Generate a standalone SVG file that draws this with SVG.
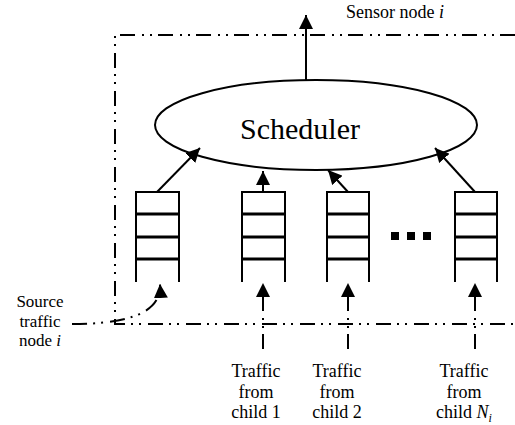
<svg xmlns="http://www.w3.org/2000/svg" width="515" height="425" viewBox="0 0 515 425">
<defs>
<marker id="ah" viewBox="0 0 14 14" refX="14" refY="7" markerWidth="14" markerHeight="14" markerUnits="userSpaceOnUse" orient="auto">
<path d="M0,0 L14,7 L0,14 z" fill="#000"/>
</marker>
</defs>
<style>
.t{font-family:"Liberation Serif","Times New Roman",serif;fill:#000;font-size:18px}
.s{font-size:17px}
.dd{fill:none;stroke:#000;stroke-width:2;stroke-dasharray:15 6 2 6 2 7}
.ln{fill:none;stroke:#000;stroke-width:2}
.q{fill:none;stroke:#000;stroke-width:2}
.qd{stroke:#000;stroke-width:3.2}
</style>
<rect width="515" height="425" fill="#fff"/>
<g id="frame">
<path class="dd" d="M515,35 L115,35 L115,324 L515,324"/>
<text class="t" x="346" y="18">Sensor node <tspan font-style="italic">i</tspan></text>
</g>
<g id="scheduler">
<ellipse cx="316" cy="125" rx="161" ry="45" fill="none" stroke="#000" stroke-width="2"/>
<text class="t" x="300" y="139" text-anchor="middle" style="font-size:30px">Scheduler</text>
</g>
<g id="queue1">
<path class="q" d="M136,282 V192 H179 V282"/>
<path class="qd" d="M136,214 H179 M136,237 H179 M136,259 H179"/>
</g>
<g id="queue2">
<path class="q" d="M242,282 V192 H285 V282"/>
<path class="qd" d="M242,214 H285 M242,237 H285 M242,259 H285"/>
</g>
<g id="queue3">
<path class="q" d="M327,282 V192 H369 V282"/>
<path class="qd" d="M327,214 H369 M327,237 H369 M327,259 H369"/>
</g>
<g id="queue4">
<path class="q" d="M455,282 V192 H497 V282"/>
<path class="qd" d="M455,214 H497 M455,237 H497 M455,259 H497"/>
</g>
<g id="ellipsis">
<rect x="391" y="232" width="8" height="8"/>
<rect x="407" y="232" width="8" height="8"/>
<rect x="423" y="232" width="8" height="8"/>
</g>
<g id="source">
<text class="t s" x="40" y="307" text-anchor="middle">Source</text>
<text class="t s" x="40" y="326.5" text-anchor="middle">traffic</text>
<text class="t s" x="40" y="346" text-anchor="middle">node <tspan font-style="italic">i</tspan></text>
</g>
<g id="child1">
<text class="t" x="256" y="377" text-anchor="middle">Traffic</text>
<text class="t" x="256" y="398" text-anchor="middle">from</text>
<text class="t" x="256" y="418" text-anchor="middle">child 1</text>
</g>
<g id="child2">
<text class="t" x="337" y="377" text-anchor="middle">Traffic</text>
<text class="t" x="337" y="398" text-anchor="middle">from</text>
<text class="t" x="337" y="418" text-anchor="middle">child 2</text>
</g>
<g id="childN">
<text class="t" x="464" y="377" text-anchor="middle">Traffic</text>
<text class="t" x="464" y="398" text-anchor="middle">from</text>
<text class="t" x="464" y="418" text-anchor="middle">child <tspan font-style="italic">N</tspan><tspan font-style="italic" font-size="12" dy="4">i</tspan></text>
</g>
<g id="connectors">
<path class="ln" d="M306,80 L306,15" marker-end="url(#ah)"/>
<path class="ln" d="M157,192 L200,148" marker-end="url(#ah)"/>
<path class="ln" d="M263,192 L263,171" marker-end="url(#ah)"/>
<path class="ln" d="M348,192 L328,170" marker-end="url(#ah)"/>
<path class="ln" d="M475,192 L435,148" marker-end="url(#ah)"/>
<path class="dd" d="M263,349 L263,283" marker-end="url(#ah)"/>
<path class="dd" d="M348,349 L348,283" marker-end="url(#ah)"/>
<path class="dd" d="M475,349 L475,283" marker-end="url(#ah)"/>
<path class="dd" d="M72,324 C120,324 162,316 160,284" marker-end="url(#ah)"/>
</g>
</svg>
